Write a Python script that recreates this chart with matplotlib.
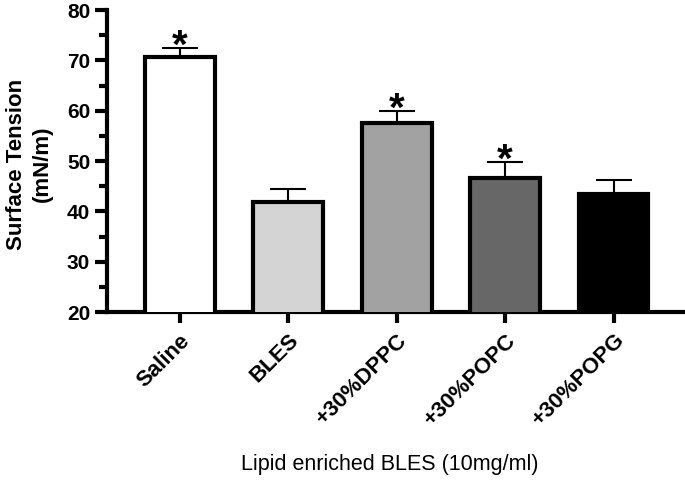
import matplotlib
matplotlib.use("Agg")
import matplotlib.pyplot as plt
from matplotlib.ticker import MultipleLocator

categories = ["Saline", "BLES", "+30%DPPC", "+30%POPC", "+30%POPG"]
means = [70.7, 41.9, 57.5, 46.7, 43.5]
sems = [1.8, 2.6, 2.4, 3.1, 2.8]
significant = [True, False, True, True, False]
colors = ["#ffffff", "#d4d4d4", "#a2a2a2", "#676767", "#000000"]

plt.rcParams['font.family'] = ['Liberation Sans', 'DejaVu Sans']

fig = plt.figure(figsize=(6.85, 4.83), dpi=100)
ax = fig.add_axes([0.156, 0.354, 0.841, 0.625])

x = list(range(len(categories)))
ax.bar(x, means, width=0.645, color=colors, edgecolor="black", linewidth=3, zorder=3)
ax.errorbar(x, means, yerr=[[0]*len(sems), sems], fmt="none", ecolor="black",
            elinewidth=1.5, capsize=13, capthick=1.5, zorder=2)
for xi, m, s, sig in zip(x, means, sems, significant):
    if sig:
        ax.annotate("*", (xi, m + s), xytext=(0, -7), textcoords="offset points",
                    ha="center", va="baseline", fontsize=29, fontweight="bold")

ax.set_ylim(20, 80)
ax.set_xlim(-0.67, 4.64)
ax.yaxis.set_major_locator(MultipleLocator(10))
ax.yaxis.set_minor_locator(MultipleLocator(5))
for s in ["top", "right"]:
    ax.spines[s].set_visible(False)
for s in ["left", "bottom"]:
    ax.spines[s].set_linewidth(3)
ax.tick_params(axis="y", which="major", length=9, width=3, labelsize=15, pad=3)
ax.tick_params(axis="y", which="minor", length=6, width=3)
ax.tick_params(axis="x", length=8, width=3, pad=5)
for lab in ax.get_yticklabels():
    lab.set_fontweight("bold")
ax.set_xticks(x)
ax.set_xticklabels(categories, rotation=45, ha="right", rotation_mode="anchor",
                   fontsize=16, fontweight="bold")
ax.set_ylabel("Surface Tension\n(mN/m)", fontsize=16, fontweight="bold", linespacing=1.3)
ax.yaxis.set_label_coords(-0.093, 0.49)
ax.set_xlabel("Lipid enriched BLES (10mg/ml)", fontsize=15.5)
ax.xaxis.set_label_coords(0.491, -0.47)

fig.savefig("out.png", dpi=100)
